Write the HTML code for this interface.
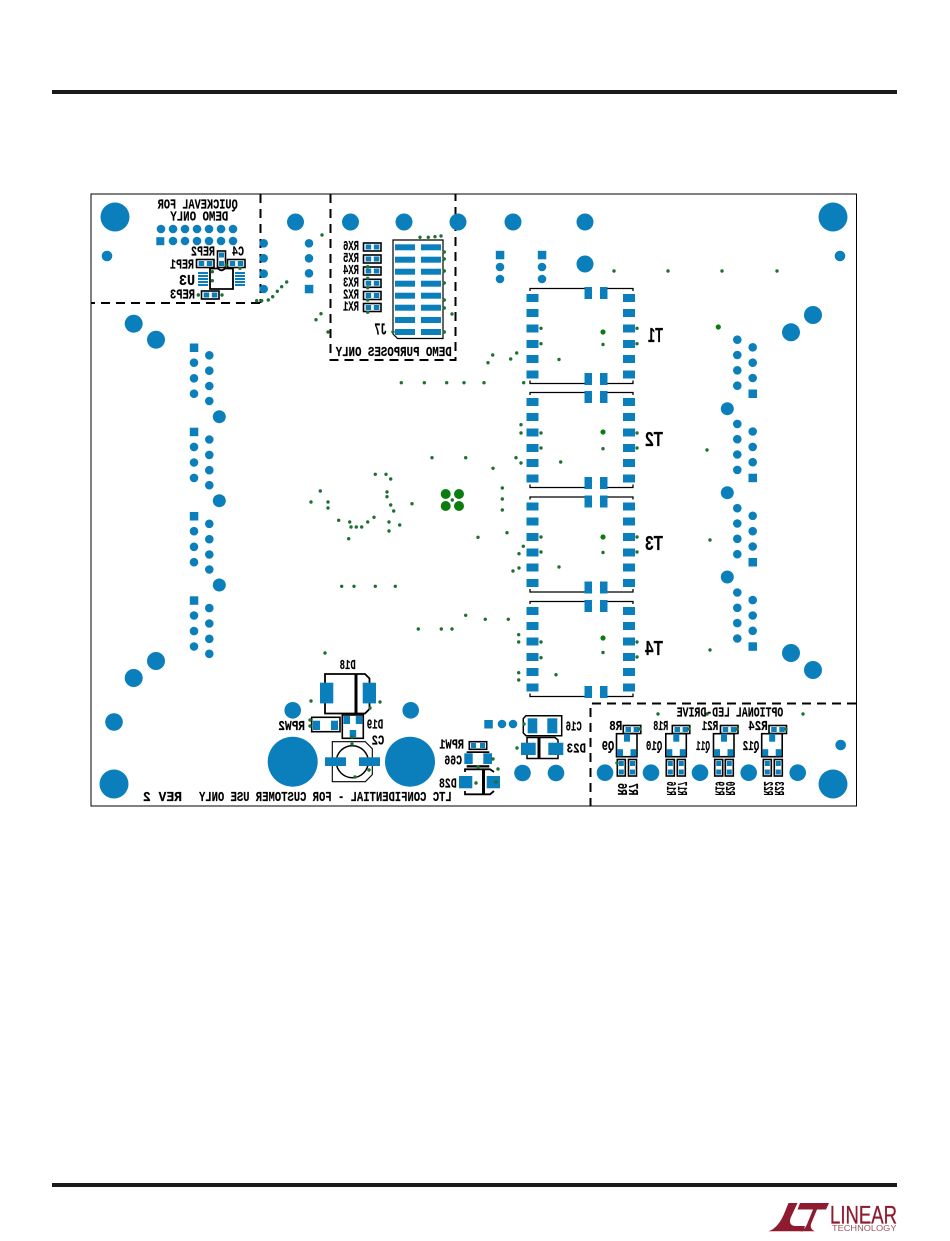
<!DOCTYPE html>
<html><head><meta charset="utf-8"><title>Board</title>
<style>
html,body{margin:0;padding:0;background:#fff}
svg{display:block}
.t text,text.l{font-family:"Liberation Mono",monospace;font-weight:700;font-size:13.5px;fill:#000;stroke:#000;stroke-width:.15}
.b{fill:#0b7fbb}
.o{fill:none;stroke:#000;stroke-width:1.6}
</style></head><body>
<svg width="950" height="1241" viewBox="0 0 950 1241" xmlns="http://www.w3.org/2000/svg">
<defs>
<g id="T">
<path d="M530 291V288.5H584.500M607.500 288.500H633V291M530 380.500V383.500H584.500M607.500 383.500H633V380.500" fill="none" stroke="#000" stroke-width="1.300"/>
<g class="b">
<rect x="526.500" y="294" width="12" height="8"/><rect x="526.500" y="309" width="12" height="8"/><rect x="526.500" y="324.500" width="12" height="8"/><rect x="526.500" y="340" width="12" height="8"/><rect x="526.500" y="355" width="12" height="8"/><rect x="526.500" y="370.500" width="12" height="8"/>
<rect x="623" y="294" width="12" height="8"/><rect x="623" y="309" width="12" height="8"/><rect x="623" y="324.500" width="12" height="8"/><rect x="623" y="340" width="12" height="8"/><rect x="623" y="355" width="12" height="8"/><rect x="623" y="370.500" width="12" height="8"/>
<rect x="584.500" y="287" width="7.500" height="12"/><rect x="600" y="287" width="7.500" height="12"/><rect x="584.500" y="373" width="7.500" height="12"/><rect x="600" y="373" width="7.500" height="12"/>
</g>
</g>
<g id="Hpad"><rect class="o" x="0" y="0" width="17.500" height="8" stroke-width="1.300"/><rect class="b" x="2.200" y="1.500" width="5.500" height="5"/><rect class="b" x="10.300" y="1.500" width="5.500" height="5"/></g>
<g id="Vpad"><rect class="o" x="0" y="0" width="8" height="16.500"/><rect class="b" x="1.500" y="1.500" width="5" height="5"/><rect class="b" x="1.500" y="10" width="5" height="5"/></g>
<g id="Q"><rect class="o" x="0" y="0" width="20.500" height="23"/><rect class="b" x="7.500" y="0" width="6" height="8"/><rect class="b" x="0.500" y="15.500" width="6" height="7"/><rect class="b" x="14" y="15.500" width="6" height="7"/></g>
<path id="connA" d="M194 362.700h0M194 378.300h0M194 393.700h0M209.300 355.300h0M209.300 370.700h0M209.300 386h0M209.300 401h0" stroke="#0b7fbb" stroke-width="8.600" stroke-linecap="round" fill="none"/>
<path id="connB" d="M737.300 339.700h0M737.300 355h0M737.300 370.300h0M737.300 385.700h0M752.700 347.300h0M752.700 362.700h0M752.700 378h0" stroke="#0b7fbb" stroke-width="8.600" stroke-linecap="round" fill="none"/>
</defs>
<rect width="950" height="1241" fill="#fff"/>
<rect x="52" y="90" width="845" height="4" fill="#1a1a1a"/>
<rect x="52" y="1183" width="845" height="4" fill="#1a1a1a"/>
<rect x="91" y="194" width="765.500" height="612" fill="none" stroke="#000" stroke-width="1"/>
<g fill="none" stroke="#000" stroke-width="2" stroke-dasharray="9 6">
<path d="M260.500 194V303"/><path d="M260 303H91"/>
<path d="M330.500 194V360H455.500V194"/>
<path d="M856 703.500H590.500V806"/>
</g>
<!-- large holes -->
<g class="b">
<circle cx="115" cy="217" r="14.500"/><circle cx="833" cy="217" r="14.500"/><circle cx="114" cy="784" r="14.500"/><circle cx="833" cy="784" r="14.500"/>
<circle cx="107" cy="256" r="5.300"/><circle cx="840" cy="256" r="5.300"/><circle cx="114" cy="722" r="8.800"/><circle cx="840.700" cy="745" r="5.300"/>
<circle cx="295.500" cy="222" r="8.500"/><circle cx="350.500" cy="222" r="8.500"/><circle cx="404" cy="222" r="8.500"/><circle cx="458" cy="222" r="8.500"/><circle cx="513" cy="222" r="8.500"/><circle cx="585" cy="222" r="8.500"/><circle cx="585" cy="264" r="8.500"/>
<circle cx="133.700" cy="323.700" r="9"/><circle cx="156" cy="339.700" r="9"/><circle cx="219.300" cy="416.700" r="6.500"/><circle cx="219.300" cy="500.700" r="6.500"/><circle cx="219.300" cy="585" r="6.500"/><circle cx="156" cy="661" r="9"/><circle cx="133.700" cy="678" r="9"/>
<circle cx="727.300" cy="408.700" r="6.500"/><circle cx="727.300" cy="492.700" r="6.500"/><circle cx="727.300" cy="577" r="6.500"/><circle cx="791" cy="332.300" r="9"/><circle cx="813" cy="315" r="9"/><circle cx="791" cy="653" r="9"/><circle cx="813" cy="670" r="9"/>
<circle cx="292.700" cy="710.300" r="8.300"/><circle cx="410.700" cy="710.300" r="8.300"/><circle cx="292.700" cy="761.700" r="25"/><circle cx="410" cy="761.700" r="25"/>
<circle cx="502" cy="724" r="4.300"/><circle cx="513" cy="724" r="4.300"/><rect x="484.300" y="720" width="8.500" height="8.500"/>
<circle cx="522.500" cy="773" r="8.300"/><circle cx="556" cy="773" r="8.300"/>
<circle cx="605" cy="772.700" r="8.300"/><circle cx="651" cy="772.700" r="8.300"/><circle cx="700" cy="772.700" r="8.300"/><circle cx="748.700" cy="772.700" r="8.300"/><circle cx="797.700" cy="772.700" r="8.300"/>
<!-- squares for connectors -->
<rect x="189.800" y="343.500" width="8.500" height="8.500"/><rect x="189.800" y="427.700" width="8.500" height="8.500"/><rect x="189.800" y="512" width="8.500" height="8.500"/><rect x="189.800" y="596.300" width="8.500" height="8.500"/>
<rect x="748.500" y="389.500" width="8.500" height="8.500"/><rect x="748.500" y="473.700" width="8.500" height="8.500"/><rect x="748.500" y="558" width="8.500" height="8.500"/><rect x="748.500" y="642.300" width="8.500" height="8.500"/>
<rect x="156.300" y="237.200" width="8" height="8"/><rect x="304.800" y="284.800" width="8.500" height="8.500"/><rect x="495.800" y="250.800" width="8.500" height="8.500"/><rect x="537.800" y="250.800" width="8.500" height="8.500"/>
</g>
<path d="M161 229h0M173 229h0M185 229h0M197 229h0M209 229h0M221 229h0M233 229h0M173 241h0M185 241h0M197 241h0M209 241h0M221 241h0M233 241h0M263.700 243.300h0M263.700 258.300h0M263.700 273.700h0M263.700 289h0M309 243.300h0M309 258.300h0M309 273.300h0M500 267h0M500 279h0M542 267h0M542 279h0" stroke="#0b7fbb" stroke-width="8.600" stroke-linecap="round" fill="none"/>
<use href="#connA"/><use href="#connA" y="84.200"/><use href="#connA" y="168.500"/><use href="#connA" y="252.800"/>
<use href="#connB"/><use href="#connB" y="84.200"/><use href="#connB" y="168.500"/><use href="#connB" y="252.800"/>
<!-- transformers -->
<use href="#T"/><use href="#T" y="104"/><use href="#T" y="208.500"/><use href="#T" y="313"/>
<!-- U3 region -->
<g fill="#0b7fbb">
<rect x="198" y="272" width="10" height="2"/><rect x="198" y="275" width="10" height="2"/><rect x="198" y="278" width="10" height="2"/><rect x="198" y="281" width="10" height="2"/><rect x="198" y="284" width="10" height="2"/>
<rect x="235" y="272" width="10" height="2"/><rect x="235" y="275" width="10" height="2"/><rect x="235" y="278" width="10" height="2"/><rect x="235" y="281" width="10" height="2"/><rect x="235" y="284" width="10" height="2"/>
</g>
<path d="M210 268.500H218q3.500 3.500 7 0H233V289H210Z" fill="none" stroke="#000" stroke-width="1.800"/>
<use href="#Vpad" x="217.500" y="251"/>
<use href="#Hpad" x="196.500" y="259.500"/><use href="#Hpad" x="227.500" y="259.500"/><use href="#Hpad" x="201.500" y="291"/>
<!-- RX -->
<use href="#Hpad" x="363.500" y="243"/><use href="#Hpad" x="363.500" y="255"/><use href="#Hpad" x="363.500" y="267"/><use href="#Hpad" x="363.500" y="279.300"/><use href="#Hpad" x="363.500" y="291.500"/><use href="#Hpad" x="363.500" y="303.500"/>
<!-- J7 -->
<path d="M393 240H443V338.500H397.500L393 334Z" fill="none" stroke="#000" stroke-width="1.200"/>
<g class="b">
<rect x="395" y="244.300" width="20" height="6"/><rect x="421" y="244.300" width="20" height="6"/><rect x="395" y="256.700" width="20" height="6"/><rect x="421" y="256.700" width="20" height="6"/><rect x="395" y="268.700" width="20" height="6"/><rect x="421" y="268.700" width="20" height="6"/><rect x="395" y="280.700" width="20" height="6"/><rect x="421" y="280.700" width="20" height="6"/><rect x="395" y="292.700" width="20" height="6"/><rect x="421" y="292.700" width="20" height="6"/><rect x="395" y="304.700" width="20" height="6"/><rect x="421" y="304.700" width="20" height="6"/><rect x="395" y="317" width="20" height="6"/><rect x="421" y="317" width="20" height="6"/><rect x="395" y="329" width="20" height="6"/><rect x="421" y="329" width="20" height="6"/>
</g>
<!-- D18 -->
<path d="M325 674H365L369.500 678.500V709L365 713.500H325Z" fill="none" stroke="#000" stroke-width="1.800"/>
<rect x="354.500" y="674" width="3" height="39.500" fill="#000"/>
<rect class="b" x="320" y="682.700" width="13.300" height="20.700"/><rect class="b" x="362.700" y="682.700" width="13.300" height="20.700"/>
<!-- RPW2 -->
<rect class="o" x="311.700" y="717.300" width="28.300" height="14.400"/><rect class="b" x="313" y="720.700" width="7" height="9.300"/><rect class="b" x="331" y="720.700" width="7" height="9.300"/>
<!-- D19 -->
<rect class="o" x="342.300" y="715" width="21" height="23.300"/><rect class="b" x="343.500" y="716" width="6.500" height="8"/><rect class="b" x="355.800" y="716" width="6.500" height="8"/><rect class="b" x="349.700" y="730" width="6.500" height="8"/>
<!-- C2 -->
<path d="M332.300 741.700H365.300L372.300 748.700V774.700L365.300 781.700H332.300Z" fill="none" stroke="#000" stroke-width="1.100"/>
<circle cx="352.300" cy="761.700" r="16" fill="none" stroke="#000" stroke-width="1.500"/>
<rect class="b" x="325" y="757.300" width="21" height="8.700"/><rect class="b" x="359" y="757.300" width="21" height="8.700"/>
<!-- RPW1 -->
<rect class="o" x="469.300" y="741.700" width="17.400" height="7.600" stroke-width="1.200"/><rect class="b" x="471" y="743" width="5" height="5"/><rect class="b" x="480" y="743" width="5" height="5"/>
<!-- C66 -->
<rect x="466.700" y="751.300" width="22.600" height="1.700" fill="#000"/><rect x="466.700" y="765.200" width="22.600" height="2.300" fill="#000"/>
<rect class="b" x="464.300" y="753.300" width="8.400" height="10.700"/><rect class="b" x="483.300" y="753.300" width="8.700" height="10.700"/>
<!-- D28 -->
<path d="M465 772V769.300H490L494 772M465 791V794.300H490L494 791" fill="none" stroke="#000" stroke-width="1.800"/>
<rect x="482" y="769.300" width="3" height="25" fill="#000"/>
<rect class="b" x="459" y="776" width="13.300" height="12.300"/><rect class="b" x="486.700" y="776" width="13.300" height="12.300"/>
<!-- C16 -->
<path d="M526 715.700H561.700V735.700H526L523.300 733V718.500Z" fill="none" stroke="#000" stroke-width="1.500"/>
<rect class="b" x="527.700" y="718.300" width="9.600" height="15"/><rect class="b" x="547.300" y="718.300" width="10" height="15"/>
<!-- D23 -->
<path d="M527 745V737.500H555L558 740V745M527 753V758.500H558V753" fill="none" stroke="#000" stroke-width="1.500"/>
<rect x="537.500" y="737.500" width="3" height="21" fill="#000"/>
<rect class="b" x="521" y="742.700" width="14.700" height="12.300"/><rect class="b" x="548.300" y="742.700" width="15" height="12.300"/>
<!-- LED drive -->
<use href="#Hpad" x="623.300" y="725.500"/><use href="#Hpad" x="672.300" y="725.500"/><use href="#Hpad" x="720.500" y="725.500"/><use href="#Hpad" x="769" y="725.500"/>
<use href="#Q" x="616.500" y="733.700"/><use href="#Q" x="665.800" y="733.700"/><use href="#Q" x="713.500" y="733.700"/><use href="#Q" x="761.700" y="733.700"/>
<use href="#Vpad" x="617.300" y="759.500"/><use href="#Vpad" x="628.500" y="759.500"/><use href="#Vpad" x="666.300" y="759.500"/><use href="#Vpad" x="677.300" y="759.500"/><use href="#Vpad" x="714.700" y="759.500"/><use href="#Vpad" x="725.300" y="759.500"/><use href="#Vpad" x="763.300" y="759.500"/><use href="#Vpad" x="774.300" y="759.500"/>
<!-- vias -->
<path d="M322 235h0M256.700 300.700h0M261.700 300.700h0M268.300 300h0M272.700 296.700h0M277.300 291.300h0M281.700 286.700h0M286.700 282h0M321 313.700h0M316 319.700h0M328 332h0M420 237.300h0M428.300 237.300h0M435 236.700h0M441 236h0M444.300 252h0M444.300 259h0M444.300 271h0M444.300 283h0M444.300 300h0M444.300 308h0M444.300 332h0M452 314h0M393 332h0M367.700 266.700h0M367.700 278.300h0M367.700 287.700h0M367.700 300h0M367.700 312.300h0M212.300 271.700h0M212.300 280.700h0M226 265h0M240 268.300h0M198.300 295h0M222 295h0M614 271h0M668 271h0M722 271h0M777 271h0M541 328.300h0M541 343.700h0M637 328.300h0M637 343.700h0M603 344.500h0M559 359.500h0M516.700 353h0M510.700 359h0M492.700 355h0M488 362.700h0M401.300 382.700h0M424.300 382.700h0M446.700 382.700h0M464 382.700h0M484 382.700h0M523.700 382.700h0M521 424.700h0M521 433h0M541 433h0M541 448h0M637 433h0M637 448h0M603 448.700h0M516 457.700h0M521 463h0M560.700 462h0M432 457.700h0M465.700 457.700h0M493 468.300h0M502.300 488h0M502.300 499h0M502.300 510h0M375.300 474.300h0M386 474.300h0M390.700 479h0M387 492h0M387 496.700h0M390.700 505h0M393.700 511h0M412 503.700h0M320.300 491h0M311 502h0M328 502h0M328 508h0M338.700 520.300h0M349.700 522h0M351 527h0M356.300 527h0M361.700 527h0M367.700 522h0M374 517.300h0M389 522h0M389 531h0M399.700 525h0M348.700 538.700h0M478 537.300h0M507 532.700h0M523.300 546.300h0M519 553.700h0M519 568h0M513 571h0M341.700 586.300h0M354 586.300h0M375.300 586.300h0M395.300 586.300h0M465.700 615.300h0M485.300 619.300h0M508.300 619.300h0M418.300 629h0M441.300 629h0M452 629h0M518.700 634.700h0M518.700 642h0M541 537h0M541 552h0M637 537h0M637 552h0M603 552.500h0M559 567h0M541 642h0M541 657.700h0M637 642h0M637 657h0M603 652.500h0M518.700 672.700h0M518.700 680h0M556 674.700h0M325 653h0M311 701h0M380 702h0M707 450h0M710 540h0M710 650h0M452.300 500h0M310 726h0M310 720h0M370 708h0M478 767h0M493 759h0M496 782h0M476 783h0M498 769h0M517 748h0M524 724h0M352 737h0M352 744h0M355 777h0M369 770h0M658 714h0M803 714h0M707 714h0M640 729h0M689 729h0M737 729h0M786 729h0M617 763h0" fill="none" stroke="#1f6f33" stroke-width="3.400" stroke-linecap="round"/>
<!-- big green vias -->
<g fill="#0b7d10"><circle cx="445.700" cy="494" r="5"/><circle cx="459" cy="494" r="5"/><circle cx="445.700" cy="506" r="5"/><circle cx="459" cy="506" r="5"/><circle cx="603" cy="332" r="2.600"/><circle cx="603" cy="432" r="2.600"/><circle cx="603" cy="537" r="2.600"/><circle cx="603" cy="638" r="2.600"/><circle cx="718.300" cy="327" r="2.600"/></g>
<!-- labels -->
<g class="t">
<text transform="matrix(-1 0 0 1 237.700 208.500)" textLength="80" lengthAdjust="spacingAndGlyphs">QUICKEVAL FOR</text>
<text transform="matrix(-1 0 0 1 228.300 220.700)" textLength="58" lengthAdjust="spacingAndGlyphs">DEMO ONLY</text>
<text transform="matrix(-1 0 0 1 244 255.700)" textLength="12" lengthAdjust="spacingAndGlyphs">C4</text>
<text transform="matrix(-1 0 0 1 215 255.700)" textLength="24" lengthAdjust="spacingAndGlyphs">REP2</text>
<text transform="matrix(-1 0 0 1 194 268.300)" textLength="24" lengthAdjust="spacingAndGlyphs">REP1</text>
<text transform="matrix(-1 0 0 1 195 285)" style="font-size:15px" textLength="16" lengthAdjust="spacingAndGlyphs">U3</text>
<text transform="matrix(-1 0 0 1 195 298.300)" textLength="25" lengthAdjust="spacingAndGlyphs">REP3</text>
<text transform="matrix(-1 0 0 1 359 250)" textLength="16" lengthAdjust="spacingAndGlyphs">RX6</text>
<text transform="matrix(-1 0 0 1 359 262)" textLength="16" lengthAdjust="spacingAndGlyphs">RX5</text>
<text transform="matrix(-1 0 0 1 359 274)" textLength="16" lengthAdjust="spacingAndGlyphs">RX4</text>
<text transform="matrix(-1 0 0 1 359 286.700)" textLength="16" lengthAdjust="spacingAndGlyphs">RX3</text>
<text transform="matrix(-1 0 0 1 359 298.700)" textLength="16" lengthAdjust="spacingAndGlyphs">RX2</text>
<text transform="matrix(-1 0 0 1 359 310.700)" textLength="16" lengthAdjust="spacingAndGlyphs">RX1</text>
<text transform="matrix(-1 0 0 1 386.700 334.300)" style="font-size:17px" textLength="12.400" lengthAdjust="spacingAndGlyphs">J7</text>
<text transform="matrix(-1 0 0 1 451.700 356)" textLength="116" lengthAdjust="spacingAndGlyphs">DEMO PURPOSES ONLY</text>
<text transform="matrix(-1 0 0 1 663 342)" style="font-size:20px;font-family:'Liberation Sans',sans-serif" textLength="15" lengthAdjust="spacingAndGlyphs">T1</text>
<text transform="matrix(-1 0 0 1 663 446)" style="font-size:20px;font-family:'Liberation Sans',sans-serif" textLength="18" lengthAdjust="spacingAndGlyphs">T2</text>
<text transform="matrix(-1 0 0 1 663 550)" style="font-size:20px;font-family:'Liberation Sans',sans-serif" textLength="18" lengthAdjust="spacingAndGlyphs">T3</text>
<text transform="matrix(-1 0 0 1 663 655)" style="font-size:20px;font-family:'Liberation Sans',sans-serif" textLength="18" lengthAdjust="spacingAndGlyphs">T4</text>
<text transform="matrix(-1 0 0 1 355.700 669)" textLength="16" lengthAdjust="spacingAndGlyphs">D18</text>
<text transform="matrix(-1 0 0 1 305 730)" textLength="26.700" lengthAdjust="spacingAndGlyphs">RPW2</text>
<text transform="matrix(-1 0 0 1 383.300 728.700)" textLength="16.600" lengthAdjust="spacingAndGlyphs">D19</text>
<text transform="matrix(-1 0 0 1 384.300 744.300)" textLength="12.600" lengthAdjust="spacingAndGlyphs">C2</text>
<text transform="matrix(-1 0 0 1 464 748.300)" textLength="24.700" lengthAdjust="spacingAndGlyphs">RPW1</text>
<text transform="matrix(-1 0 0 1 462 764.300)" textLength="17.700" lengthAdjust="spacingAndGlyphs">C66</text>
<text transform="matrix(-1 0 0 1 456.700 787.700)" textLength="17.700" lengthAdjust="spacingAndGlyphs">D28</text>
<text transform="matrix(-1 0 0 1 581.700 730.300)" textLength="16" lengthAdjust="spacingAndGlyphs">C16</text>
<text transform="matrix(-1 0 0 1 586 752.700)" textLength="19.300" lengthAdjust="spacingAndGlyphs">D23</text>
<text transform="matrix(-1 0 0 1 451.700 801)" textLength="252.700" lengthAdjust="spacingAndGlyphs">LTC CONFIDENTIAL - FOR CUSTOMER USE ONLY</text>
<text transform="matrix(-1 0 0 1 182 801)" textLength="39" lengthAdjust="spacingAndGlyphs">REV 2</text>
<text transform="matrix(-1 0 0 1 783.300 716.700)" textLength="106.600" lengthAdjust="spacingAndGlyphs">OPTIONAL LED-DRIVE</text>
<text transform="matrix(-1 0 0 1 622.300 730)" textLength="13" lengthAdjust="spacingAndGlyphs">R8</text>
<text transform="matrix(-1 0 0 1 668.300 730)" textLength="15" lengthAdjust="spacingAndGlyphs">R18</text>
<text transform="matrix(-1 0 0 1 718.300 730)" textLength="16.600" lengthAdjust="spacingAndGlyphs">R21</text>
<text transform="matrix(-1 0 0 1 767.700 730)" textLength="19.400" lengthAdjust="spacingAndGlyphs">R24</text>
<text transform="matrix(-1 0 0 1 614.300 750)" textLength="12.600" lengthAdjust="spacingAndGlyphs">Q9</text>
<text transform="matrix(-1 0 0 1 662.300 750)" textLength="16.300" lengthAdjust="spacingAndGlyphs">Q10</text>
<text transform="matrix(-1 0 0 1 710 750)" textLength="14" lengthAdjust="spacingAndGlyphs">Q11</text>
<text transform="matrix(-1 0 0 1 759.300 750)" textLength="16.600" lengthAdjust="spacingAndGlyphs">Q12</text>
<text transform="matrix(0 -1 -1 0 618 795.500)" textLength="12.500" lengthAdjust="spacingAndGlyphs">R6</text>
<text transform="matrix(0 -1 -1 0 629 795.500)" textLength="12.500" lengthAdjust="spacingAndGlyphs">R7</text>
<text transform="matrix(0 -1 -1 0 667 795.500)" textLength="14" lengthAdjust="spacingAndGlyphs">R16</text>
<text transform="matrix(0 -1 -1 0 678 795.500)" textLength="14" lengthAdjust="spacingAndGlyphs">R17</text>
<text transform="matrix(0 -1 -1 0 715.500 795.500)" textLength="14" lengthAdjust="spacingAndGlyphs">R19</text>
<text transform="matrix(0 -1 -1 0 726 795.500)" textLength="14" lengthAdjust="spacingAndGlyphs">R20</text>
<text transform="matrix(0 -1 -1 0 764 795.500)" textLength="14" lengthAdjust="spacingAndGlyphs">R22</text>
<text transform="matrix(0 -1 -1 0 775 795.500)" textLength="14" lengthAdjust="spacingAndGlyphs">R23</text>
</g>
<!-- logo -->
<g fill="#8e1b2f">
<path d="M768.300 1231.300C776 1229 781 1221 784 1214L788.500 1203H797.500L791 1217C788.500 1223 791 1226 796 1226H805L803 1231.300Z"/>
<path d="M800 1203H829L826 1209.500H817L811 1224C810 1228 812 1230 815 1231.300H800C804 1230 806 1227 807.500 1223L813 1209.500H797.500Z"/>
</g>
<text x="830" y="1223.500" font-family="'Liberation Sans',sans-serif" font-size="25" fill="#8e1b2f" stroke="#8e1b2f" stroke-width=".3" textLength="67" lengthAdjust="spacingAndGlyphs">LINEAR</text>
<text x="832" y="1231" font-family="'Liberation Sans',sans-serif" font-size="8" fill="#9c5561" textLength="64.500" lengthAdjust="spacingAndGlyphs">TECHNOLOGY</text>
</svg>
</body></html>
